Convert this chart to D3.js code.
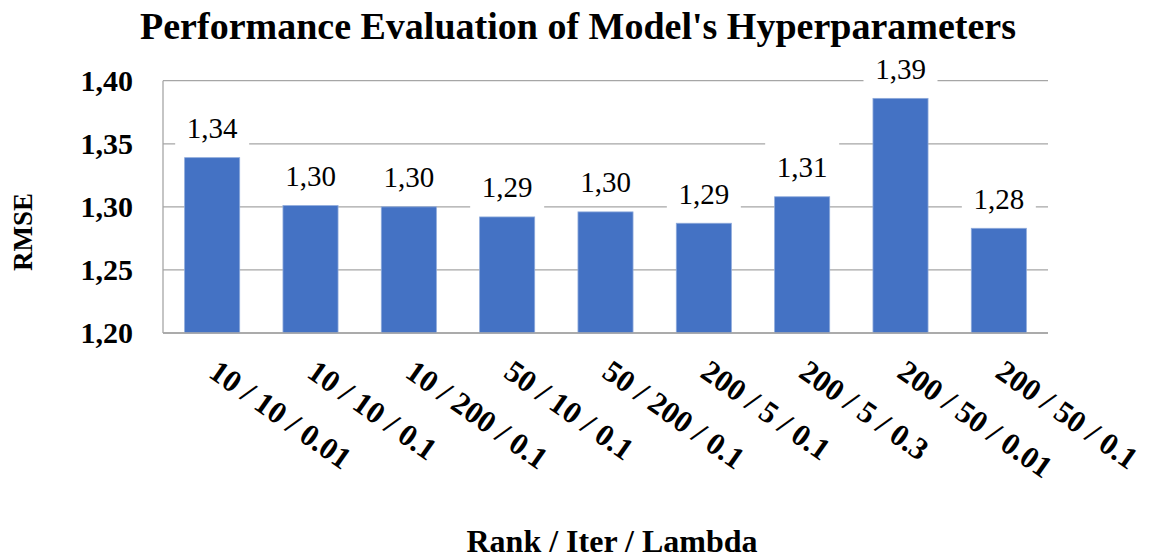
<!DOCTYPE html>
<html>
<head>
<meta charset="utf-8">
<script src="https://cdn.jsdelivr.net/npm/d3@7"></script>
<style>
  html, body { margin: 0; padding: 0; background: #fff; }
  svg { display: block; }
  text { font-family: "Liberation Serif", "Times New Roman", serif; }
</style>
</head>
<body>
<script>
// Hyperparameter combinations (Rank / Iter / Lambda) and their RMSE
const categories = ["10 / 10 / 0.01", "10 / 10 / 0.1", "10 / 200 / 0.1", "50 / 10 / 0.1",
  "50 / 200 / 0.1", "200 / 5 / 0.1", "200 / 5 / 0.3", "200 / 50 / 0.01", "200 / 50 / 0.1"];
const rmse = [1.339, 1.301, 1.300, 1.292, 1.296, 1.287, 1.308, 1.386, 1.283];
const yTicks = [1.20, 1.25, 1.30, 1.35, 1.40];

const W = 1155, H = 559;
const margin = { top: 80.7, right: 107, bottom: 226, left: 163 };
const plotW = W - margin.left - margin.right;
const plotH = H - margin.top - margin.bottom;

const svg = d3.select("body").append("svg").attr("width", W).attr("height", H);
const fmt = v => d3.format(".2f")(v).replace(".", ",");

const x = d3.scaleBand().domain(categories).range([0, plotW]).paddingInner(0.44).paddingOuter(0.22);
const y = d3.scaleLinear().domain([1.20, 1.40]).range([plotH, 0]);

const g = svg.append("g").attr("transform", `translate(${margin.left},${margin.top})`);

// horizontal gridlines
g.append("g").selectAll("line").data(yTicks).join("line")
  .attr("x1", 0).attr("x2", plotW)
  .attr("y1", d => y(d)).attr("y2", d => y(d))
  .attr("stroke", "#a6a6a6").attr("stroke-width", 1.3);

// left axis line
g.append("line").attr("x1", 0).attr("x2", 0).attr("y1", 0).attr("y2", plotH)
  .attr("stroke", "#a6a6a6").attr("stroke-width", 1.3);

// y tick labels
const yAxis = d3.axisLeft(y).tickValues(yTicks).tickFormat(fmt).tickSize(0).tickPadding(30);
const ya = g.append("g").call(yAxis);
ya.select(".domain").remove();
ya.selectAll("text").attr("font-size", 30).attr("font-weight", "bold").attr("fill", "#000")
  .attr("font-family", "Liberation Serif, serif");

// bars
g.append("g").selectAll("rect").data(rmse).join("rect")
  .attr("x", (d, i) => x(categories[i]))
  .attr("width", x.bandwidth())
  .attr("y", d => y(d))
  .attr("height", d => plotH - y(d))
  .attr("fill", "#4472c4")
  .attr("stroke", "#8eaadb").attr("stroke-width", 0.8);

// data labels with white backing
const lbl = g.append("g").selectAll("g").data(rmse).join("g")
  .attr("transform", (d, i) => `translate(${x(categories[i]) + x.bandwidth() / 2},${y(d) - 19.5})`);
lbl.append("rect").attr("x", -37).attr("width", 74).attr("y", -35).attr("height", 46).attr("fill", "#fff");
lbl.append("text").attr("text-anchor", "middle").attr("font-size", 29).attr("fill", "#000")
  .text(d => fmt(d));

// x tick labels, rotated downward
const xa = g.append("g").attr("transform", `translate(0,${plotH})`);
xa.selectAll("text").data(categories).join("text")
  .attr("transform", d => `translate(${x(d) + x.bandwidth() / 2 - 5},${43}) rotate(35)`)
  .attr("font-size", 31).attr("font-weight", "bold").attr("fill", "#000")
  .text(d => d);

// bottom axis line
g.append("line").attr("x1", 0).attr("x2", plotW).attr("y1", plotH).attr("y2", plotH)
  .attr("stroke", "#a6a6a6").attr("stroke-width", 1.3);

// title
svg.append("text").attr("x", 578).attr("y", 39).attr("text-anchor", "middle")
  .attr("font-size", 38).attr("font-weight", "bold").text("Performance Evaluation of Model's Hyperparameters");

// axis titles
svg.append("text").attr("transform", `translate(${32},${232}) rotate(-90)`).attr("text-anchor", "middle")
  .attr("font-size", 27).attr("font-weight", "bold").text("RMSE");
svg.append("text").attr("x", 612).attr("y", 552).attr("text-anchor", "middle")
  .attr("font-size", 32).attr("font-weight", "bold").text("Rank / Iter / Lambda");
</script>
</body>
</html>
